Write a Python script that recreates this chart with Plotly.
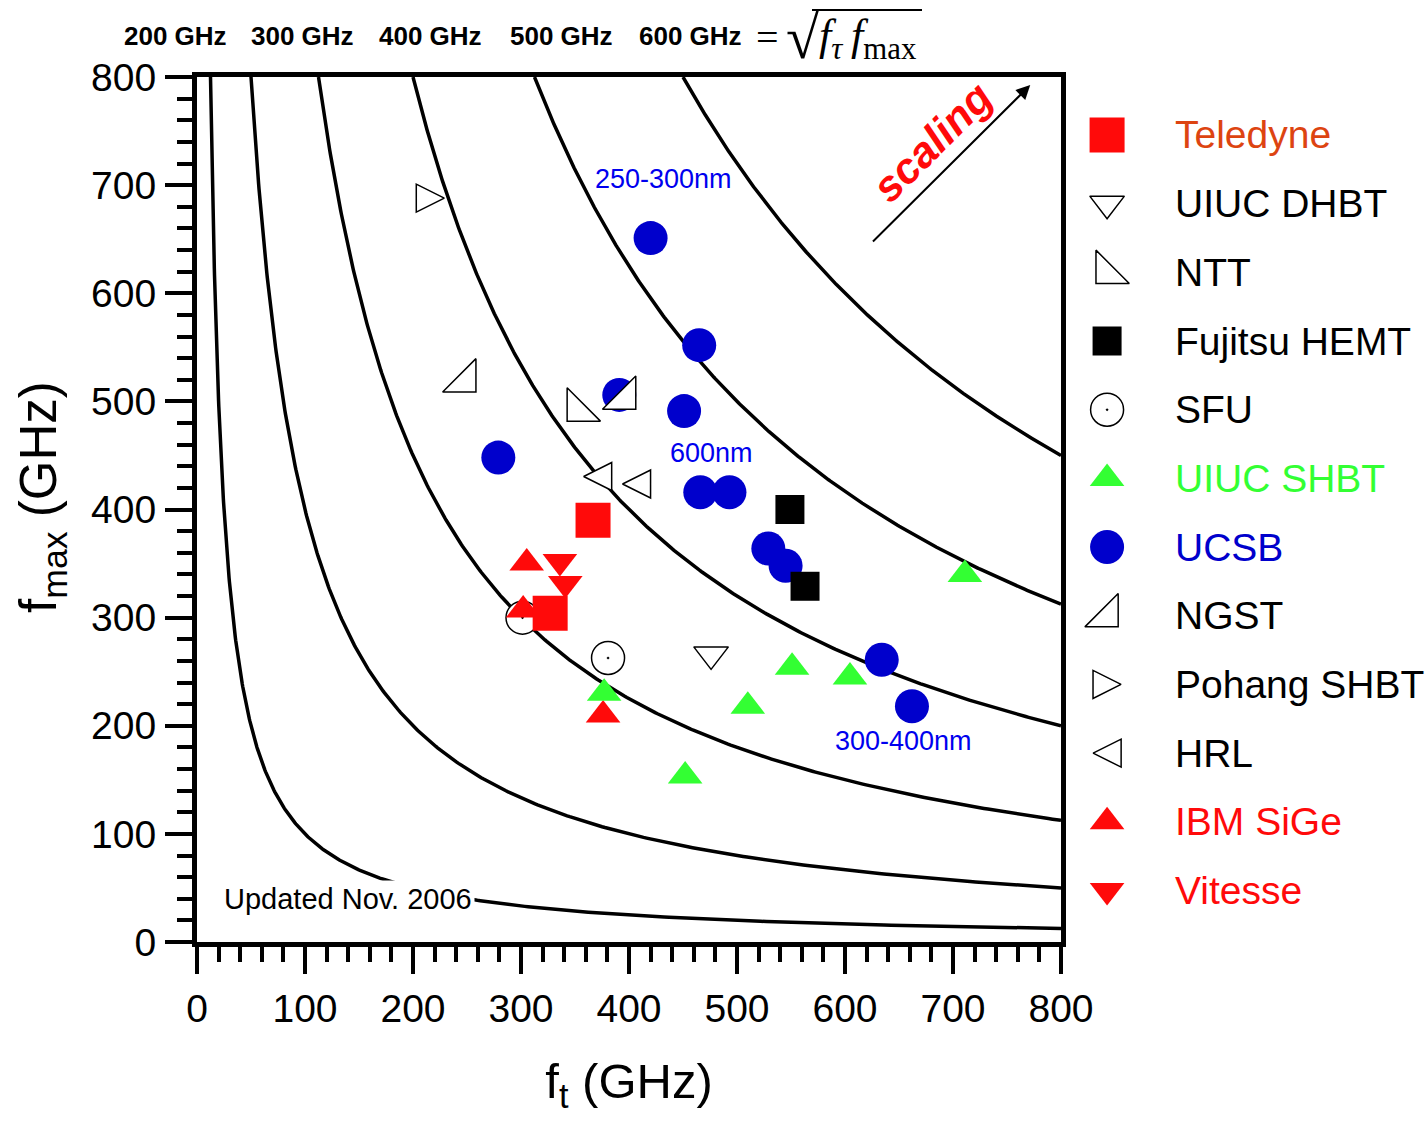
import numpy as np
import plotly.graph_objects as go

# ---------------- data ----------------
iso_f = [100, 200, 300, 400, 500, 600]          # sqrt(ft*fmax) contours, GHz
top_labels = ["200 GHz", "300 GHz", "400 GHz", "500 GHz", "600 GHz"]

teledyne_ft = [366.7, 327]
teledyne_fmax = [390, 304]
uiuc_dhbt_ft = [476]
uiuc_dhbt_fmax = [266]
ntt_ft = [353]
ntt_fmax = [492]
fujitsu_ft = [549, 563]
fujitsu_fmax = [400, 329]
sfu_ft = [301.4, 380.6]
sfu_fmax = [300, 262.7]
uiuc_shbt_ft = [711, 551, 604.6, 510, 452, 377]
uiuc_shbt_fmax = [340, 254, 245, 218, 153.5, 230]
ucsb_ft = [420, 465, 391, 451, 279, 466, 493, 529, 545, 634, 662]
ucsb_fmax = [651, 552, 506, 491, 448, 416, 416, 364, 348, 261, 218]
ngst_ft = [248, 396]
ngst_fmax = [519, 503]
pohang_ft = [216]
pohang_fmax = [688]
hrl_ft = [371, 407]
hrl_fmax = [430.5, 423.6]
ibm_ft = [305.3, 302, 376]
ibm_fmax = [350.5, 307, 210]
vitesse_ft = [336, 341]
vitesse_fmax = [352, 331.5]

legend_names = ["Teledyne", "UIUC DHBT", "NTT", "Fujitsu HEMT", "SFU", "UIUC SHBT",
                "UCSB", "NGST", "Pohang SHBT", "HRL", "IBM SiGe", "Vitesse"]

RED = "#FF0A0A"
GREEN = "#33FF33"
BLUE = "#0000CC"

# 'shift' = horizontal offset (in marker radii) for symbols anchored at their tip
styles = {
    "Teledyne":     dict(symbol="square", size=35, color=RED, line=0, text="#DD4411", shift=0),
    "UIUC DHBT":    dict(symbol="triangle-down", size=30, color="white", line=1.5, text="black", shift=0),
    "NTT":          dict(symbol="triangle-sw", size=37, color="white", line=1.5, text="black", shift=0),
    "Fujitsu HEMT": dict(symbol="square", size=29, color="black", line=0, text="black", shift=0),
    "SFU":          dict(symbol="circle-dot", size=33, color="white", line=1.5, text="black", shift=0),
    "UIUC SHBT":    dict(symbol="triangle-up", size=30, color=GREEN, line=0, text=GREEN, shift=0),
    "UCSB":         dict(symbol="circle", size=34, color=BLUE, line=0, text=BLUE, shift=0),
    "NGST":         dict(symbol="triangle-se", size=37, color="white", line=1.5, text="black", shift=0),
    "Pohang SHBT":  dict(symbol="arrow-right", size=28, color="white", line=1.5, text="black", shift=1),
    "HRL":          dict(symbol="arrow-left", size=28, color="white", line=1.5, text="black", shift=-1),
    "IBM SiGe":     dict(symbol="triangle-up", size=30, color=RED, line=0, text=RED, shift=0),
    "Vitesse":      dict(symbol="triangle-down", size=30, color=RED, line=0, text=RED, shift=0),
}

series = {
    "Teledyne": (teledyne_ft, teledyne_fmax),
    "UIUC DHBT": (uiuc_dhbt_ft, uiuc_dhbt_fmax),
    "NTT": (ntt_ft, ntt_fmax),
    "Fujitsu HEMT": (fujitsu_ft, fujitsu_fmax),
    "SFU": (sfu_ft, sfu_fmax),
    "UIUC SHBT": (uiuc_shbt_ft, uiuc_shbt_fmax),
    "UCSB": (ucsb_ft, ucsb_fmax),
    "NGST": (ngst_ft, ngst_fmax),
    "Pohang SHBT": (pohang_ft, pohang_fmax),
    "HRL": (hrl_ft, hrl_fmax),
    "IBM SiGe": (ibm_ft, ibm_fmax),
    "Vitesse": (vitesse_ft, vitesse_fmax),
}
draw_order = ["UCSB", "NGST", "NTT", "HRL", "Pohang SHBT", "UIUC DHBT", "Fujitsu HEMT",
              "SFU", "IBM SiGe", "Vitesse", "Teledyne", "UIUC SHBT"]

# ---------------- layout geometry (pixels) ----------------
W, H = 1427, 1122
L, R, T, B = 197, 1061, 77, 942
ML, MR, MT, MB = L, 0, T, H - B
plot_w = W - ML - MR
plot_h = B - T
x_dom_end = (R - L) / plot_w
X_PX_PER_UNIT = (R - L) / 800.0

def px(xp):
    return (xp - L) / plot_w

def py(yp):
    return (B - yp) / plot_h

FONT = "Liberation Sans, Arial, sans-serif"
SERIF = "Liberation Serif, Times New Roman, serif"

fig = go.Figure()

# iso-fmax curves
for F in iso_f:
    ft = np.geomspace(F * F / 800.0, 800, 400)
    fig.add_trace(go.Scatter(x=ft, y=F * F / ft, mode="lines",
                             line=dict(color="black", width=3.5),
                             hoverinfo="skip", showlegend=False))

for name in draw_order:
    s = styles[name]
    xs, ys = series[name]
    dx = s["shift"] * (s["size"] / 2.0) / X_PX_PER_UNIT
    fig.add_trace(go.Scatter(
        x=[v + dx for v in xs], y=ys, mode="markers", name=name, showlegend=False,
        marker=dict(symbol=s["symbol"], size=s["size"], color=s["color"],
                    line=dict(color="black", width=s["line"]))))

# manual legend on its own axes (x2 units = pixels from the right frame)
for i, name in enumerate(legend_names):
    s = styles[name]
    fig.add_trace(go.Scatter(
        x=[45 + s["shift"] * s["size"] / 2.0], y=[i], xaxis="x2", yaxis="y2",
        mode="markers", showlegend=False,
        marker=dict(symbol=s["symbol"], size=s["size"], color=s["color"],
                    line=dict(color="black", width=s["line"])), hoverinfo="skip"))

annotations = []
for i, name in enumerate(legend_names):
    annotations.append(dict(x=111, y=i, xref="x2", yref="y2", text=name, showarrow=False,
                            xanchor="left", yanchor="middle",
                            font=dict(family=FONT, size=39, color=styles[name]["text"])))

# top labels
top_x = [175, 302, 430, 561, 690]
for lab, xp in zip(top_labels, top_x):
    annotations.append(dict(x=px(xp), y=py(36), xref="paper", yref="paper", text="<b>%s</b>" % lab,
                            showarrow=False, xanchor="center", yanchor="middle",
                            font=dict(family=FONT, size=26, color="black")))
annotations.append(dict(x=px(767), y=py(37), xref="paper", yref="paper", text="=",
                        showarrow=False, xanchor="center", yanchor="middle",
                        font=dict(family=SERIF, size=40, color="black")))
annotations.append(dict(x=px(802), y=py(38), xref="paper", yref="paper", text="√",
                        showarrow=False, xanchor="center", yanchor="middle",
                        font=dict(family=SERIF, size=60, color="black")))
annotations.append(dict(x=px(817), y=py(38), xref="paper", yref="paper",
                        text="<i>f</i><sub><i>τ</i></sub>\u2009<i>f</i><sub>max</sub>",
                        showarrow=False, xanchor="left", yanchor="middle",
                        font=dict(family=SERIF, size=44, color="black")))

# axis title for y (as a rotated annotation for exact placement)
annotations.append(dict(x=px(42), y=py(497), xref="paper", yref="paper",
                        text="f<sub>max</sub> (GHz)", textangle=-90, showarrow=False,
                        xanchor="center", yanchor="middle",
                        font=dict(family=FONT, size=51, color="black")))

# in-plot texts
annotations += [
    dict(x=139.4, y=39.8, text="Updated Nov. 2006", showarrow=False, bgcolor="white",
         borderpad=2, xanchor="center", yanchor="middle",
         font=dict(family=FONT, size=29, color="black")),
    dict(x=431.5, y=705.7, text="250-300nm", showarrow=False, xanchor="center", yanchor="middle",
         font=dict(family=FONT, size=27, color="#0000EE")),
    dict(x=476, y=452, text="600nm", showarrow=False, xanchor="center", yanchor="middle",
         font=dict(family=FONT, size=27, color="#0000EE")),
    dict(x=653.7, y=186, text="300-400nm", showarrow=False, xanchor="center", yanchor="middle",
         font=dict(family=FONT, size=27, color="#0000EE")),
    dict(x=680.5, y=740, text="<b><i>scaling</i></b>", showarrow=False, textangle=-45,
         xanchor="center", yanchor="middle",
         font=dict(family=FONT, size=43, color="#FF0A0A")),
    dict(x=771.5, y=792.5, ax=624.5, ay=646.5, xref="x", yref="y", axref="x", ayref="y",
         text="", showarrow=True, arrowhead=2, arrowsize=1.4, arrowwidth=2, arrowcolor="black"),
]

axis_common = dict(range=[0, 800], showgrid=False, zeroline=False, showline=True,
                   linecolor="black", linewidth=5, mirror=True,
                   ticks="outside", ticklen=27, tickwidth=4, tickcolor="black",
                   dtick=100, tick0=0,
                   minor=dict(dtick=20, ticks="outside", ticklen=15, tickwidth=4, tickcolor="black"),
                   tickfont=dict(family=FONT, size=39, color="black"))

fig.update_layout(
    width=W, height=H, autosize=False,
    margin=dict(l=ML, r=MR, t=MT, b=MB, pad=0, autoexpand=False),
    paper_bgcolor="white", plot_bgcolor="white",
    showlegend=False,
    xaxis=dict(domain=[0, x_dom_end], title=dict(text="f<sub>t</sub> (GHz)",
               font=dict(family=FONT, size=49, color="black"), standoff=36),
               ticklabelstandoff=1, **axis_common),
    yaxis=dict(ticklabelstandoff=1, **axis_common),
    xaxis2=dict(domain=[x_dom_end + 0.001, 1], range=[0, W - R], visible=False,
                anchor="y2", fixedrange=True),
    yaxis2=dict(domain=[0, 1], range=[11.75, -0.844], visible=False, anchor="x2",
                fixedrange=True),
    annotations=annotations,
    shapes=[dict(type="line", xref="paper", yref="paper", x0=px(812), x1=px(922),
                 y0=py(10), y1=py(10), line=dict(color="black", width=2))],
)

fig.write_html("out.html", config={"responsive": False, "displayModeBar": False},
               post_script="document.body.style.margin='0';document.body.style.overflow='hidden';")
